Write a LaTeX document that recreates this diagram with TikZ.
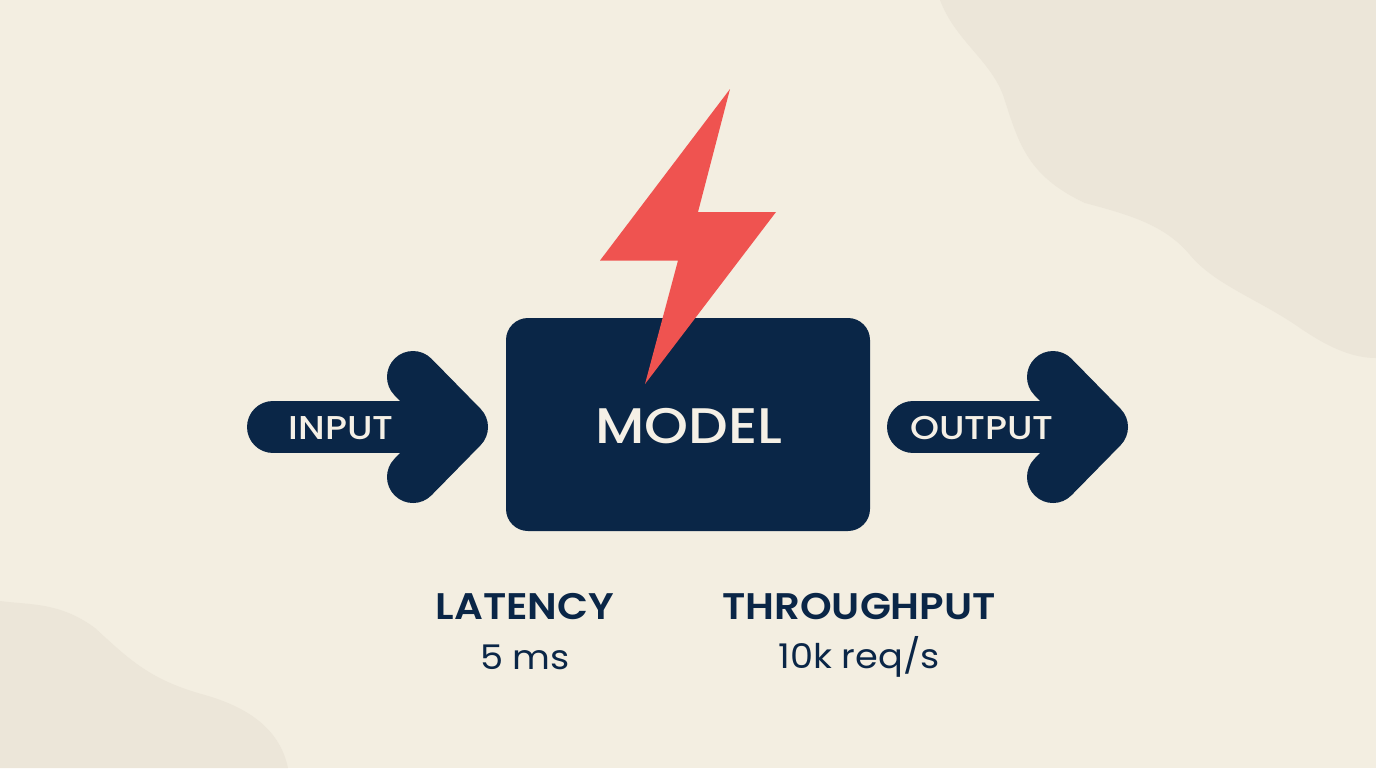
\documentclass[tikz,border=0pt]{standalone}
\usepackage{fontspec}
\setmainfont{Poppins}
\newfontfamily\medfont[FakeStretch=1.12]{Poppins Medium}
\newfontfamily\semifont[FakeStretch=1.09]{Poppins SemiBold}
\newfontfamily\valfont[FakeStretch=1.08]{Poppins}
\definecolor{bg}{HTML}{F3EEE1}
\definecolor{blob}{HTML}{ECE6D9}
\definecolor{navy}{HTML}{0A2647}
\definecolor{bolt}{HTML}{EF5350}
\definecolor{paper}{HTML}{F5F0E6}
\tikzset{
  px/.style={x=0.5pt,y=-0.5pt},
  arrowline/.style={draw=navy,line width=26pt,line cap=round,line join=round},
  flowlabel/.style={text=paper,font=\fontsize{16.5}{18}\medfont,inner sep=0pt,anchor=center},
  metrichead/.style={text=navy,font=\fontsize{18.5}{20}\semifont,inner sep=0pt,anchor=center},
  metricval/.style={text=navy,font=\fontsize{17}{20}\valfont,inner sep=0pt,anchor=center}
}
\begin{document}
\begin{tikzpicture}[px]
\useasboundingbox (0,0) rectangle (1376,768);
\fill[bg] (0,0) rectangle (1376,768);
\fill[blob] (940,0) .. controls (955,40) and (990,60) .. (1003,95)
  .. controls (1018,140) and (1025,175) .. (1085,203)
  .. controls (1130,215) and (1165,225) .. (1190,255)
  .. controls (1215,285) and (1260,300) .. (1300,328)
  .. controls (1325,345) and (1350,358) .. (1376,358) -- (1376,0) -- cycle;
\fill[blob] (0,601) .. controls (30,605) and (60,602) .. (95,628)
  .. controls (130,660) and (150,680) .. (205,695)
  .. controls (250,708) and (280,730) .. (288,768) -- (0,768) -- cycle;
% arrows
\draw[arrowline] (273,427) -- (460,427);
\draw[arrowline] (413,377) -- (462,427) -- (413,477);
\draw[arrowline] (913,427) -- (1100,427);
\draw[arrowline] (1053,377) -- (1102,427) -- (1053,477);
% model
\node[fill=navy,rounded corners=11pt,minimum width=182pt,minimum height=106.5pt,inner sep=0pt] (model) at (688,424.5) {};
\node[text=paper,font=\fontsize{25}{28}\medfont,inner sep=0pt] (modeltext) at (689,426) {MODEL};
% bolt
\fill[bolt] (730,89) -- (600,260.5) -- (678,260.5) -- (645,384) -- (776,212) -- (698,212) -- cycle;
% labels
\node[flowlabel] (input) at (341,428) {INPUT};
\node[flowlabel] (output) at (982,428) {OUTPUT};
\node[metrichead] (lat) at (525,607) {LATENCY};
\node[metricval] (latv) at (525,657) {5 ms};
\node[metrichead] (thr) at (859,607) {THROUGHPUT};
\node[metricval] (thrv) at (859,657) {10k req/s};
\end{tikzpicture}
\end{document}
